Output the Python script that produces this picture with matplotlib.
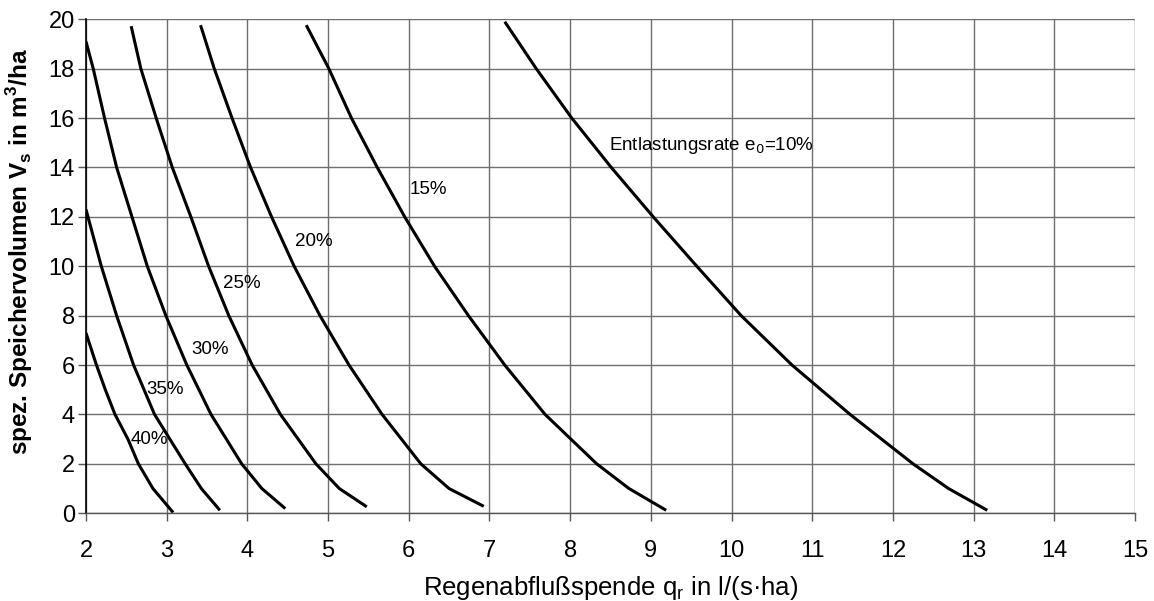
import matplotlib
matplotlib.use('Agg')
import matplotlib.pyplot as plt

plt.rcParams['font.family'] = ['Liberation Sans', 'DejaVu Sans']

# Curves: q_r (x) and V_s (y) for each overflow rate
q_40 = [2.0, 2.13, 2.24, 2.36, 2.52, 2.65, 2.83, 3.08]
v_40 = [7.3, 6.0, 5.0, 4.0, 3.0, 2.0, 1.0, 0.03]

q_35 = [2.0, 2.19, 2.38, 2.59, 2.85, 3.23, 3.43, 3.66]
v_35 = [12.3, 10.0, 8.0, 6.0, 4.0, 2.0, 1.0, 0.12]

q_30 = [2.0, 2.09, 2.23, 2.38, 2.57, 2.76, 2.99, 3.25, 3.55, 3.93, 4.18, 4.47]
v_30 = [19.1, 18.0, 16.0, 14.0, 12.0, 10.0, 8.0, 6.0, 4.0, 2.0, 1.0, 0.19]

q_25 = [2.56, 2.68, 2.87, 3.07, 3.30, 3.52, 3.77, 4.06, 4.41, 4.85, 5.14, 5.48]
v_25 = [19.72, 18.0, 16.0, 14.0, 12.0, 10.0, 8.0, 6.0, 4.0, 2.0, 1.0, 0.26]

q_20 = [3.42, 3.59, 3.81, 4.04, 4.30, 4.58, 4.90, 5.26, 5.67, 6.15, 6.50, 6.93]
v_20 = [19.76, 18.0, 16.0, 14.0, 12.0, 10.0, 8.0, 6.0, 4.0, 2.0, 1.0, 0.28]

q_15 = [4.73, 5.01, 5.29, 5.61, 5.95, 6.32, 6.74, 7.19, 7.69, 8.33, 8.73, 9.19]
v_15 = [19.76, 18.0, 16.0, 14.0, 12.0, 10.0, 8.0, 6.0, 4.0, 2.0, 1.0, 0.12]

q_10 = [7.19, 7.58, 8.02, 8.51, 9.03, 9.57, 10.12, 10.75, 11.47, 12.25, 12.69, 13.17]
v_10 = [19.9, 18.0, 16.0, 14.0, 12.0, 10.0, 8.0, 6.0, 4.0, 2.0, 1.0, 0.12]

curves = [(q_40, v_40), (q_35, v_35), (q_30, v_30), (q_25, v_25),
          (q_20, v_20), (q_15, v_15), (q_10, v_10)]

# curve labels and where they sit
label_texts = ['40%', '35%', '30%', '25%', '20%', '15%', 'Entlastungsrate e$_0$=10%']
label_x = [2.55, 2.75, 3.30, 3.70, 4.59, 6.01, 8.48]
label_y = [3.0, 5.0, 6.64, 9.31, 11.02, 13.1, 14.9]

fig = plt.figure(figsize=(11.54, 6.01), dpi=100)
ax = fig.add_axes([0.0745, 0.146, 0.909, 0.822])

for q, v in curves:
    ax.plot(q, v, color='black', lw=2.2, solid_capstyle='butt', solid_joinstyle='round')

for t, x, y in zip(label_texts, label_x, label_y):
    ax.text(x, y, t, fontsize=13.5, va='center', ha='left')

ax.set_xlim(2, 15)
ax.set_ylim(0, 20)
ax.set_xticks(range(2, 16))
ax.set_yticks(range(0, 21, 2))
ax.grid(True, color='#6e6e6e', lw=1.0)
ax.set_axisbelow(True)
ax.tick_params(direction='out', length=6, width=1.0, labelsize=17, color='#555555')
ax.tick_params(axis='y', pad=2)
ax.tick_params(axis='x', pad=13)

for side in ['top', 'right']:
    ax.spines[side].set_visible(False)
ax.spines['left'].set_linewidth(1.2)
ax.spines['bottom'].set_linewidth(1.0)
ax.spines['bottom'].set_color('#555555')

ax.set_xlabel('Regenabflußspende q$_\\mathregular{r}$ in l/(s·ha)', fontsize=18.5)
ax.xaxis.set_label_coords(0.5, -0.123)
ax.set_ylabel('spez. Speichervolumen V$_\\mathregular{s}$ in m$^\\mathregular{3}$/ha', fontsize=17.5,
              fontweight='bold')
ax.yaxis.set_label_coords(-0.049, 0.53)

plt.savefig('out.png', dpi=100)
plt.close(fig)
